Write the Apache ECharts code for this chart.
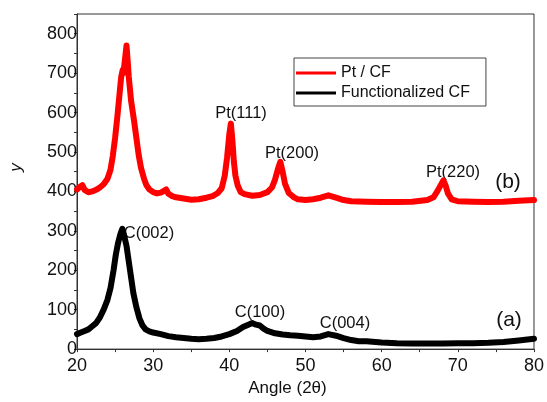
<!DOCTYPE html>
<html>
<head>
<meta charset="utf-8">
<script src="https://cdn.jsdelivr.net/npm/echarts@6/dist/echarts.min.js"></script>
<style>
html,body{margin:0;padding:0;background:#fff;}
#chart{width:547px;height:402px;}
</style>
</head>
<body>
<div id="chart"></div>
<script>
// Pt / CF (red)
var ptAngle = [20.0,20.4,20.7,21.0,21.5,22.0,22.5,23.0,23.5,24.0,24.4,24.7,25.0,25.3,25.6,25.8,26.0,26.1,26.3,26.5,26.6,26.8,27.1,27.5,27.8,28.1,28.4,28.8,29.1,29.5,30.0,30.5,31.0,31.4,31.7,32.0,32.5,33.0,34.0,35.0,36.0,37.0,37.8,38.5,39.0,39.4,39.7,40.0,40.2,40.4,40.6,40.8,41.1,41.5,42.0,43.0,44.0,45.0,45.6,46.0,46.4,46.7,47.0,47.3,47.8,48.5,49.0,50.0,51.0,52.0,53.0,54.0,55.0,56.0,58.0,60.0,62.0,64.0,66.0,66.8,67.3,67.7,68.1,68.4,68.7,69.2,70.0,72.0,74.0,76.0,78.0,80.0];
var ptInt   = [405,412,416,404,398,400,404,410,418,432,455,490,535,590,650,690,708,700,735,770,745,690,630,578,535,492,460,432,416,405,398,395,397,401,405,394,388,385,382,379,380,384,388,396,408,440,485,545,572,530,475,440,415,398,393,389,391,398,410,430,458,475,450,420,396,385,380,378,380,384,390,384,378,375,374,373,373,374,378,385,400,414,428,415,395,380,375,374,373,374,376,378];
// Functionalized CF (black)
var cfAngle = [20.0,20.5,21.0,21.5,22.0,22.5,23.0,23.5,24.0,24.4,24.8,25.1,25.4,25.7,25.95,26.2,26.5,26.8,27.1,27.4,27.8,28.2,28.6,29.0,29.5,30.0,31.0,32.0,33.0,34.0,35.0,36.0,37.0,38.0,39.0,40.0,41.0,41.8,42.5,43.0,43.5,44.0,44.5,45.0,46.0,47.0,48.0,49.0,50.0,51.0,52.0,53.0,54.0,55.0,56.0,57.0,58.0,60.0,62.0,64.0,66.0,68.0,70.0,72.0,74.0,76.0,78.0,80.0];
var cfInt   = [38,42,46,50,58,66,80,100,125,155,200,240,270,292,305,287,262,222,182,142,106,78,60,50,45,42,38,33,30,28,26,25,26,28,32,38,46,56,62,66,62,60,52,46,40,37,35,34,32,30,32,38,34,28,23,20,20,17,15,14,14,14,15,15,16,18,22,26];

var xTicks = [20,30,40,50,60,70,80];
var yTicks = [0,100,200,300,400,500,600,700,800];

var peakLabels = [
  {text:'Pt(111)', x:241, y:113},
  {text:'Pt(200)', x:292, y:153},
  {text:'Pt(220)', x:453, y:172},
  {text:'C(002)',  x:149, y:233},
  {text:'C(100)',  x:260, y:312},
  {text:'C(004)',  x:345, y:323}
];
var panelLabels = [
  {text:'(b)', x:508, y:182},
  {text:'(a)', x:509, y:320}
];

function pairs(xs, ys){ return xs.map(function(v,i){ return [v, ys[i]]; }); }

var font = 'Liberation Sans, Arial, Helvetica, sans-serif';
var chart = echarts.init(document.getElementById('chart'));
var graphics = [];
peakLabels.forEach(function(p){
  graphics.push({type:'text', x:p.x, y:p.y, style:{text:p.text, font:'16.5px '+font, fill:'#111', textAlign:'center', textVerticalAlign:'middle'}});
});
panelLabels.forEach(function(p){
  graphics.push({type:'text', x:p.x, y:p.y, style:{text:p.text, font:'21px '+font, fill:'#111', textAlign:'center', textVerticalAlign:'middle'}});
});

chart.setOption({
  animation:false,
  backgroundColor:'#fff',
  grid:{left:77, right:10, top:14, bottom:50, show:true, borderColor:'#333', borderWidth:1, backgroundColor:'transparent'},
  legend:{
    left:294, top:58, orient:'vertical', icon:'rect', itemWidth:40, itemHeight:3, itemGap:4,
    padding:[7,16,5,2], borderColor:'#444', borderWidth:1, backgroundColor:'#fff',
    textStyle:{fontFamily:font, fontSize:16, color:'#111', lineHeight:16},
    data:['Pt / CF','Functionalized CF']
  },
  xAxis:{
    type:'value', min:20, max:80, interval:10,
    name:'Angle (2θ)', nameLocation:'middle', nameGap:28,
    nameTextStyle:{fontFamily:font, fontSize:17, color:'#111', padding:[0,36,0,0]},
    axisLine:{show:true, lineStyle:{color:'#333', width:1}},
    axisTick:{show:true, length:3, lineStyle:{color:'#333'}},
    minorTick:{show:true, splitNumber:2, length:3, lineStyle:{color:'#333'}},
    splitLine:{show:false},
    axisLabel:{fontFamily:font, fontSize:18, color:'#111', margin:8,
      formatter:function(v){ return xTicks.indexOf(v)>=0 ? String(v) : ''; }}
  },
  yAxis:{
    type:'value', min:0, max:850, interval:100,
    name:'y', nameLocation:'middle', nameGap:52, nameRotate:90,
    nameTextStyle:{fontFamily:font, fontSize:17, color:'#111', fontStyle:'italic', padding:[0,0,0,28]},
    axisLine:{show:true, lineStyle:{color:'#333', width:1}},
    axisTick:{show:true, length:3, lineStyle:{color:'#333'}},
    minorTick:{show:true, splitNumber:2, length:3, lineStyle:{color:'#333'}},
    splitLine:{show:false},
    axisLabel:{fontFamily:font, fontSize:18, color:'#111', margin:0,
      formatter:function(v){ return yTicks.indexOf(v)>=0 ? String(v) : ''; }}
  },
  graphic:graphics,
  series:[
    {name:'Pt / CF', type:'line', data:pairs(ptAngle, ptInt), showSymbol:false, color:'#ff0000',
     lineStyle:{width:6, color:'#ff0000', join:'round', cap:'round'}, z:3},
    {name:'Functionalized CF', type:'line', data:pairs(cfAngle, cfInt), showSymbol:false, color:'#000000',
     lineStyle:{width:6, color:'#000000', join:'round', cap:'round'}, z:2}
  ]
});
</script>
</body>
</html>
